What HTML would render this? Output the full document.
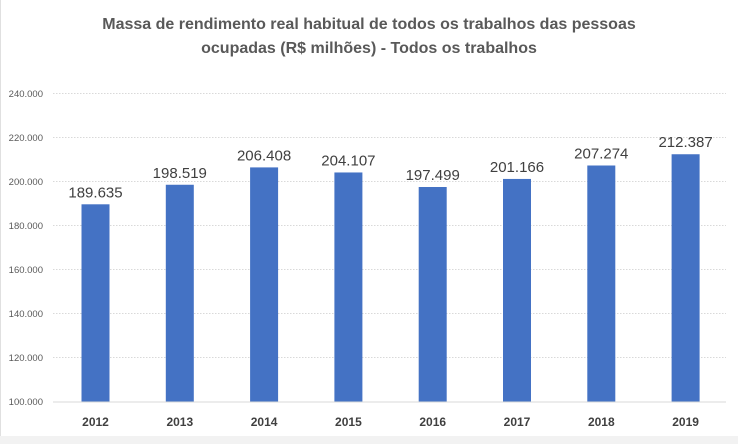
<!DOCTYPE html>
<html><head><meta charset="utf-8"><style>
body{margin:0;background:#fff;}
svg{display:block;font-family:"Liberation Sans",sans-serif;}
</style></head><body>
<svg id="c" width="738" height="444" viewBox="0 0 738 444" xmlns="http://www.w3.org/2000/svg">
<rect x="0" y="0" width="738" height="444" fill="#fff"/>
<rect x="0" y="436" width="738" height="8" fill="#f2f2f2"/>
<line x1="0.5" y1="0" x2="0.5" y2="436" stroke="#e0e0e0"/>
<text x="369" y="29" text-anchor="middle" font-size="16" font-weight="bold" fill="#595959">Massa de rendimento real habitual de todos os trabalhos das pessoas</text>
<text x="369" y="53" text-anchor="middle" font-size="16" font-weight="bold" fill="#595959">ocupadas (R$ milhões) - Todos os trabalhos</text>
<g id="grid"></g><g id="bars"></g><g id="labels"></g>
</svg>
<script>
const categories=["2012","2013","2014","2015","2016","2017","2018","2019"];
const values=[189635,198519,206408,204107,197499,201166,207274,212387];
const valueLabels=["189.635","198.519","206.408","204.107","197.499","201.166","207.274","212.387"];
const ticks=[100000,120000,140000,160000,180000,200000,220000,240000];
const tickLabels=["100.000","120.000","140.000","160.000","180.000","200.000","220.000","240.000"];
const NS="http://www.w3.org/2000/svg";
const y=v=>401.5-(v-100000)/140000*308;
const x=i=>95.5+i*84.3;
function mk(t,a,p){const e=document.createElementNS(NS,t);for(const k in a)e.setAttribute(k,a[k]);p.appendChild(e);return e;}
const g=document.getElementById('grid'),b=document.getElementById('bars'),l=document.getElementById('labels');
ticks.forEach((t,i)=>{
  if(i>0){const ln=mk('line',{x1:53,x2:726,y1:y(t),y2:y(t),stroke:'#d9d9d9','stroke-dasharray':'1.5,1.5'},g);
  
  }
  const tx=mk('text',{x:43,y:y(t)+3.5,'text-anchor':'end','font-size':9.5,fill:'#595959'},g);
  tx.textContent=tickLabels[i];
  
  
});
const ax=mk('line',{x1:53,x2:726,y1:402,y2:402,stroke:'#d9d9d9','stroke-width':1},g);


categories.forEach((c,i)=>{
  const r=mk('rect',{x:x(i)-14,y:y(values[i]),width:28,height:401.5-y(values[i]),fill:'#4472c4'},b);
  
  
  const v=mk('text',{x:x(i),y:y(values[i])-7,'text-anchor':'middle','font-size':15,fill:'#404040'},l);
  v.textContent=valueLabels[i];
  
  
  const cl=mk('text',{x:x(i),y:426,'text-anchor':'middle','font-size':12,'font-weight':'bold',fill:'#404040'},l);
  cl.textContent=c;
  
  
});
</script>
</body></html>
